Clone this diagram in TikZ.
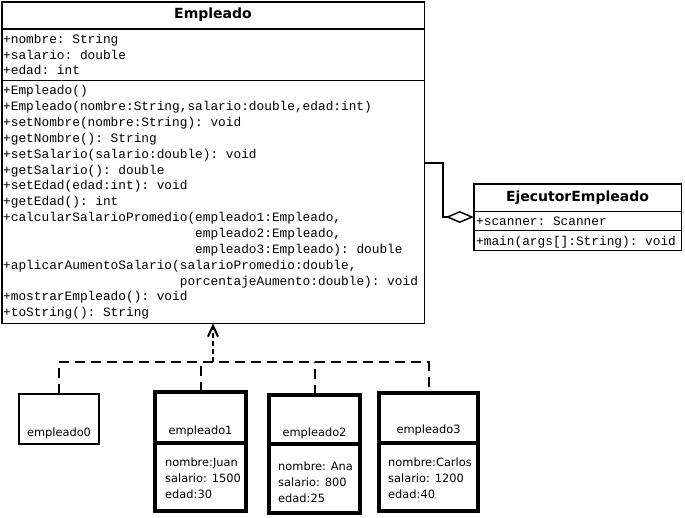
\documentclass[tikz,border=0pt]{standalone}
\usepackage{fontspec}
\setmainfont{DejaVu Sans}
\setmonofont{Liberation Mono}
\usetikzlibrary{arrows.meta}
\tikzset{
  classbox/.style={draw,line width=1.5pt,fill=white,inner sep=0pt,outer sep=0pt},
  objbox/.style={draw,line width=4pt,inner sep=0pt,outer sep=0pt},
  classname/.style={inner sep=0pt,font=\fontsize{14}{16}\selectfont\bfseries},
  member/.style={anchor=base west,inner sep=0pt,font=\ttfamily\fontsize{12.8}{15.8}\selectfont},
  objtext/.style={inner sep=0pt,font=\fontsize{11.4}{16}\selectfont},
  dep/.style={line width=2pt,dash pattern=on 10pt off 6pt},
}
\begin{document}
\begin{tikzpicture}[x=1pt,y=-1pt]
\useasboundingbox (0,0) rectangle (685,517);
% class Empleado
\node[classbox,minimum width=422.5pt,minimum height=321.5pt] (empleado) at (213,162.5) {};
\draw[line width=1.5pt] (empleado.west |- 0,29) -- (empleado.east |- 0,29);
\draw[line width=1.5pt] (empleado.west |- 0,80.5) -- (empleado.east |- 0,80.5);
\node[classname] (emptitle) at (213,15) {Empleado};
\node[member] (attr1) at (3,43.3) {+nombre: String};
\node[member] (attr2) at (3,59.1) {+salario: double};
\node[member] (attr3) at (3,74.9) {+edad: int};
\node[member] (meth1) at (3,94.8) {+Empleado()};
\node[member] (meth2) at (3,110.7) {+Empleado(nombre:String,salario:double,edad:int)};
\node[member] (meth3) at (3,126.5) {+setNombre(nombre:String): void};
\node[member] (meth4) at (3,142.4) {+getNombre(): String};
\node[member] (meth5) at (3,158.2) {+setSalario(salario:double): void};
\node[member] (meth6) at (3,174.1) {+getSalario(): double};
\node[member] (meth7) at (3,189.9) {+setEdad(edad:int): void};
\node[member] (meth8) at (3,205.8) {+getEdad(): int};
\node[member] (meth9) at (3,221.6) {+calcularSalarioPromedio(empleado1:Empleado,};
\node[member] (meth10) at (3,237.5) {\hphantom{+calcularSalarioPromedio(}empleado2:Empleado,};
\node[member] (meth11) at (3,253.3) {\hphantom{+calcularSalarioPromedio(}empleado3:Empleado): double};
\node[member] (meth12) at (3,269.2) {+aplicarAumentoSalario(salarioPromedio:double,};
\node[member] (meth13) at (3,285) {\hphantom{+aplicarAumentoSalario(}porcentajeAumento:double): void};
\node[member] (meth14) at (3,300.9) {+mostrarEmpleado(): void};
\node[member] (meth15) at (3,316.7) {+toString(): String};
% class EjecutorEmpleado
\node[classbox,minimum width=207.5pt,minimum height=66.5pt] (ejecutor) at (577.5,217) {};
\draw[line width=1.5pt] (ejecutor.west |- 0,211.5) -- (ejecutor.east |- 0,211.5);
\draw[line width=1.5pt] (ejecutor.west |- 0,230.5) -- (ejecutor.east |- 0,230.5);
\node[classname] (ejtitle) at (577.5,198) {EjecutorEmpleado};
\node[member] (ejattr) at (476,225.5) {+scanner: Scanner};
\node[member] (ejmeth) at (476,245) {+main(args[]:String): void};
% aggregation
\coordinate (bend) at (443,163);
\draw[line width=1.5pt,-{Diamond[open,length=28pt,width=12pt]}] (bend -| empleado.east) -- (bend) |- (ejecutor.west);
% objects
\node[draw,line width=2pt,inner sep=0pt,outer sep=0pt,minimum width=80pt,minimum height=50pt] (obj0) at (59,419) {};
\node[objtext,anchor=base] (obj0name) at (59,436) {empleado0};
\node[objbox,minimum width=91pt,minimum height=119pt] (obj1) at (200.5,451.5) {};
\draw[line width=4pt] (obj1.west |- 0,443) -- (obj1.east |- 0,443);
\node[objtext,anchor=base] (obj1name) at (200.5,434) {empleado1};
\node[objtext,anchor=base west,align=left] (obj1attr) at (165,498) {nombre:Juan\\salario: 1500\\edad:30};
\node[objbox,minimum width=91pt,minimum height=118pt] (obj2) at (314.5,454) {};
\draw[line width=4pt] (obj2.west |- 0,444) -- (obj2.east |- 0,444);
\node[objtext,anchor=base] (obj2name) at (314.5,436) {empleado2};
\node[objtext,anchor=base west,align=left] (obj2attr) at (278,502) {nombre: Ana\\salario: 800\\edad:25};
\node[objbox,minimum width=99pt,minimum height=118pt] (obj3) at (428.5,452) {};
\draw[line width=4pt] (obj3.west |- 0,443) -- (obj3.east |- 0,443);
\node[objtext,anchor=base] (obj3name) at (428.5,433) {empleado3};
\node[objtext,anchor=base west,align=left] (obj3attr) at (388,498) {nombre:Carlos\\salario: 1200\\edad:40};
% instance links
\coordinate (hub) at (213,362);
\draw[dep] (obj0.north) |- (hub) -| (obj3.north);
\draw[dep] (obj1.north) -- (obj1.north |- hub);
\draw[dep] (obj2.north) -- (obj2.north |- hub);
\draw[line width=2.5pt,dash pattern=on 5pt off 3pt,-{Straight Barb[length=11pt,width=10pt,line width=2pt]}] (hub) -- (empleado.south);
\end{tikzpicture}
\end{document}
